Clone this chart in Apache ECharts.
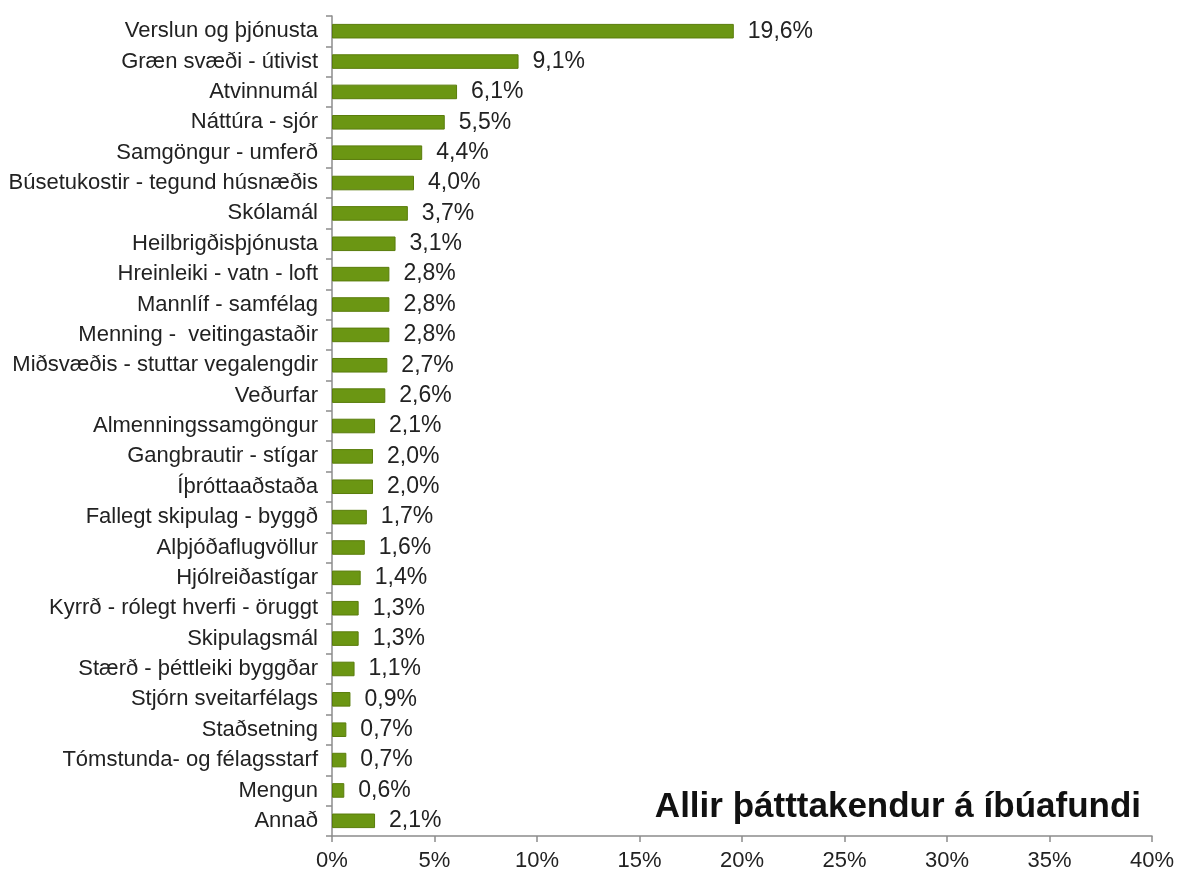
<!DOCTYPE html>
<html>
<head>
<meta charset="utf-8">
<script src="https://cdn.jsdelivr.net/npm/echarts@6/dist/echarts.min.js"></script>
<style>
  html, body { margin: 0; padding: 0; background: #fff; }
  #chart { width: 1179px; height: 879px; }
</style>
</head>
<body>
<div id="chart"></div>
<script>
// flokkar, efst til neðst
const categories = [
  'Verslun og þjónusta',
  'Græn svæði - útivist',
  'Atvinnumál',
  'Náttúra - sjór',
  'Samgöngur - umferð',
  'Búsetukostir - tegund húsnæðis',
  'Skólamál',
  'Heilbrigðisþjónusta',
  'Hreinleiki - vatn - loft',
  'Mannlíf - samfélag',
  'Menning -  veitingastaðir',
  'Miðsvæðis - stuttar vegalengdir',
  'Veðurfar',
  'Almenningssamgöngur',
  'Gangbrautir - stígar',
  'Íþróttaaðstaða',
  'Fallegt skipulag - byggð',
  'Alþjóðaflugvöllur',
  'Hjólreiðastígar',
  'Kyrrð - rólegt hverfi - öruggt',
  'Skipulagsmál',
  'Stærð - þéttleiki byggðar',
  'Stjórn sveitarfélags',
  'Staðsetning',
  'Tómstunda- og félagsstarf',
  'Mengun',
  'Annað'
]
// hlutfall í %
const values = [
  19.6, 9.1, 6.1, 5.5, 4.4, 4.0, 3.7, 3.1, 2.8, 2.8, 2.8, 2.7, 2.6, 2.1,
  2.0, 2.0, 1.7, 1.6, 1.4, 1.3, 1.3, 1.1, 0.9, 0.7, 0.7, 0.6, 2.1
]
const xTicks = { min: 0, max: 40, interval: 5 }
const chartTitle = 'Allir þátttakendur á íbúafundi'

const font = 'Arial, "Liberation Sans", sans-serif'
const chart = echarts.init(document.getElementById('chart'))

chart.setOption({
  animation: false,
  title: {
    text: chartTitle,
    right: 33,
    top: 785,
    textStyle: { fontFamily: font, fontSize: 35, fontWeight: 'bold', color: '#111' }
  },
  grid: { left: 332, right: 27, top: 16, bottom: 43, containLabel: false },
  xAxis: {
    type: 'value',
    min: xTicks.min,
    max: xTicks.max,
    interval: xTicks.interval,
    axisLine: { show: true, lineStyle: { color: '#8c8c8c', width: 1.5 } },
    axisTick: { show: true, length: 6, lineStyle: { color: '#8c8c8c', width: 1.5 } },
    axisLabel: {
      formatter: '{value}%',
      margin: 14,
      fontFamily: font,
      fontSize: 22,
      color: '#222'
    },
    splitLine: { show: false }
  },
  yAxis: {
    type: 'category',
    inverse: true,
    data: categories,
    axisLine: { show: true, lineStyle: { color: '#8c8c8c', width: 1.5 } },
    axisTick: { show: true, length: 6, lineStyle: { color: '#8c8c8c', width: 1.5 } },
    axisLabel: {
      margin: 14,
      fontFamily: font,
      fontSize: 22,
      color: '#222'
    }
  },
  series: [
    {
      type: 'bar',
      data: values,
      barWidth: '48%',
      itemStyle: { color: '#6b9613', borderColor: '#5a7d0c', borderWidth: 1 },
      label: {
        show: true,
        position: 'right',
        distance: 14,
        fontFamily: font,
        fontSize: 23,
        color: '#222',
        formatter: (p) => p.value.toFixed(1).replace('.', ',') + '%'
      }
    }
  ]
})
</script>
</body>
</html>
